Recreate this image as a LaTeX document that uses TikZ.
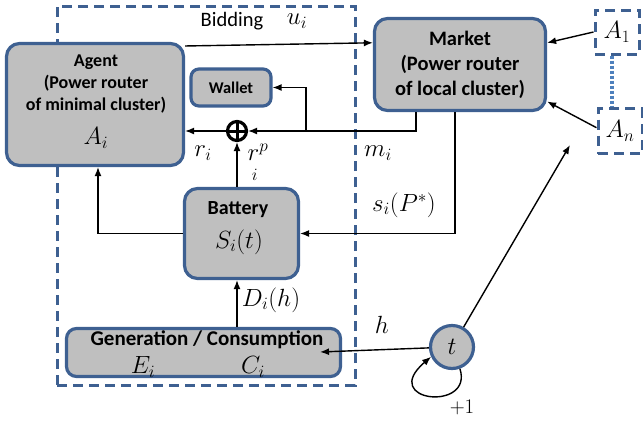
\documentclass[tikz,border=0pt]{standalone}
\usepackage{fontspec}
\setsansfont{Carlito}
\usetikzlibrary{arrows.meta,calc}
\definecolor{frameblue}{RGB}{62,96,145}
\definecolor{dotblue}{RGB}{79,129,189}
\definecolor{boxgray}{RGB}{191,191,191}

\newcommand{\msz}[1]{\fontsize{#1}{#1}\selectfont}

\tikzset{
  block/.style={draw=frameblue, fill=boxgray, line width=3.2pt,
    rounded corners=13pt, inner sep=0pt},
  dashframe/.style={draw=frameblue, line width=3pt,
    dash pattern=on 10pt off 6pt, inner sep=0pt},
  wire/.style={line width=1.4pt, draw=black},
  arr/.style={wire, -{Latex[length=9pt,width=7pt]}},
  boxtext/.style={font=\sffamily\bfseries, align=center, inner sep=0pt},
  mathlbl/.style={inner sep=0pt, font=\msz{25}},
}

\begin{document}
\begin{tikzpicture}[x=1pt,y=-1pt]
\useasboundingbox (0,0) rectangle (643,421);

% outer bidding frame
\node[dashframe, minimum width=298pt, minimum height=379pt] (bidding) at (206,195.5) {};
\node[font=\sffamily\msz{20.5}, inner sep=0pt] (bidlbl) at (232,21) {Bidding};
\node[mathlbl, font=\msz{26}] (ui) at (297,21) {$u_i$};

% blocks
\node[block, minimum width=177pt, minimum height=122pt] (agent) at (95,104.5) {};
\node[block, minimum width=80pt, minimum height=37pt, rounded corners=8pt] (wallet) at (231,87.5) {};
\node[block, minimum width=171pt, minimum height=92pt] (market) at (460,64.5) {};
\node[block, minimum width=114pt, minimum height=90pt] (battery) at (241.5,233.5) {};
\node[block, minimum width=274pt, minimum height=48pt, rounded corners=10pt] (gen) at (203.5,352.5) {};
\node[circle, draw=frameblue, fill=boxgray, line width=3.2pt, minimum size=43pt, inner sep=0pt] (t) at (452,347) {};

% agents of the cluster
\node[dashframe, minimum width=44pt, minimum height=44pt] (a1) at (617,32) {};
\node[dashframe, minimum width=44pt, minimum height=45pt] (an) at (620,131) {};
\draw[draw=dotblue, line width=4pt, dash pattern=on 3pt off 2pt] (a1.south -| 612,0) -- (an.north -| 612,0);

% block texts
\node[boxtext, font=\sffamily\bfseries\fontsize{18}{22}\selectfont] (agtxt) at (96,84)
  {Agent\\(Power router\\of minimal cluster)};
\node[mathlbl, font=\msz{27}] (ai) at (96,138) {$A_i$};
\node[boxtext, font=\sffamily\bfseries\msz{16.4}] (wtxt) at (231,87.5) {Wallet};
\node[boxtext, font=\sffamily\bfseries\fontsize{20.5}{25}\selectfont] (mtxt) at (460,65)
  {Market\\(Power router\\of local cluster)};
\node[boxtext, font=\sffamily\bfseries\msz{20}] (btxt) at (238,210) {Battery};
\node[mathlbl, font=\msz{27}] (si) at (239,242) {$S_i(t)$};
\node[boxtext, font=\sffamily\bfseries\msz{21}] (gtxt) at (207,340) {Generation / Consumption};
\node[mathlbl, font=\msz{26}] (ei) at (143,367) {$E_i$};
\node[mathlbl, font=\msz{26}] (ci) at (253,367) {$C_i$};
\node[mathlbl, font=\msz{24}] at (t) {$t$};
\node[mathlbl, font=\msz{24}] at (a1) {$A_1$};
\node[mathlbl, font=\msz{24}] at (an) {$A_n$};

% summing point
\node[circle, draw=black, line width=3.2pt, minimum size=19pt, inner sep=0pt] (plus) at (237,131) {};
\draw[line width=3pt] (plus.north) -- (plus.south) (plus.west) -- (plus.east);

% connectors
\coordinate (wb) at (306,131);
\coordinate (anin) at (570,145);
\coordinate (genin) at (320,352);

\draw[arr] (agent.33) -- (market.166);
\draw[arr] (a1.west) -- (market.14);
\draw[arr] (an.172) -- (market.-23);
\draw[arr] ([xshift=-44pt]market.south) |- (plus.east);
\draw[arr] (plus.west) -- (agent.east |- plus);
\draw[arr] (wb) |- (wallet.east);
\draw[arr] (battery.north -| plus) -- (plus.south);
\draw[arr] (battery.west) -| ([xshift=3pt]agent.south);
\draw[arr] ([xshift=-5pt]market.south) |- (battery.east);
\draw[arr] (gen.north -| plus) -- (battery.south -| plus);
\draw[arr] (t) -- (anin);
\draw[arr] (t) -- (genin);
\draw[arr] (t.-70) .. controls (474,412) and (378,402) .. (t.205);

% signal labels
\node[mathlbl] (ri) at (203,153) {$r_i$};
\node[mathlbl, align=left] (rip) at (258,162) {$r^{p}$\\[-9pt]$\,_{i}$};
\node[mathlbl] (mi) at (378,153) {$m_i$};
\node[mathlbl, font=\msz{26}] (sip) at (404,205) {$s_i(P^{*})$};
\node[mathlbl, font=\msz{23}] (dih) at (271,300) {$D_i(h)$};
\node[mathlbl, font=\msz{26}] (hl) at (382,325) {$h$};
\node[mathlbl, font=\msz{21}] (plus1) at (462,407) {$+1$};
\end{tikzpicture}
\end{document}
